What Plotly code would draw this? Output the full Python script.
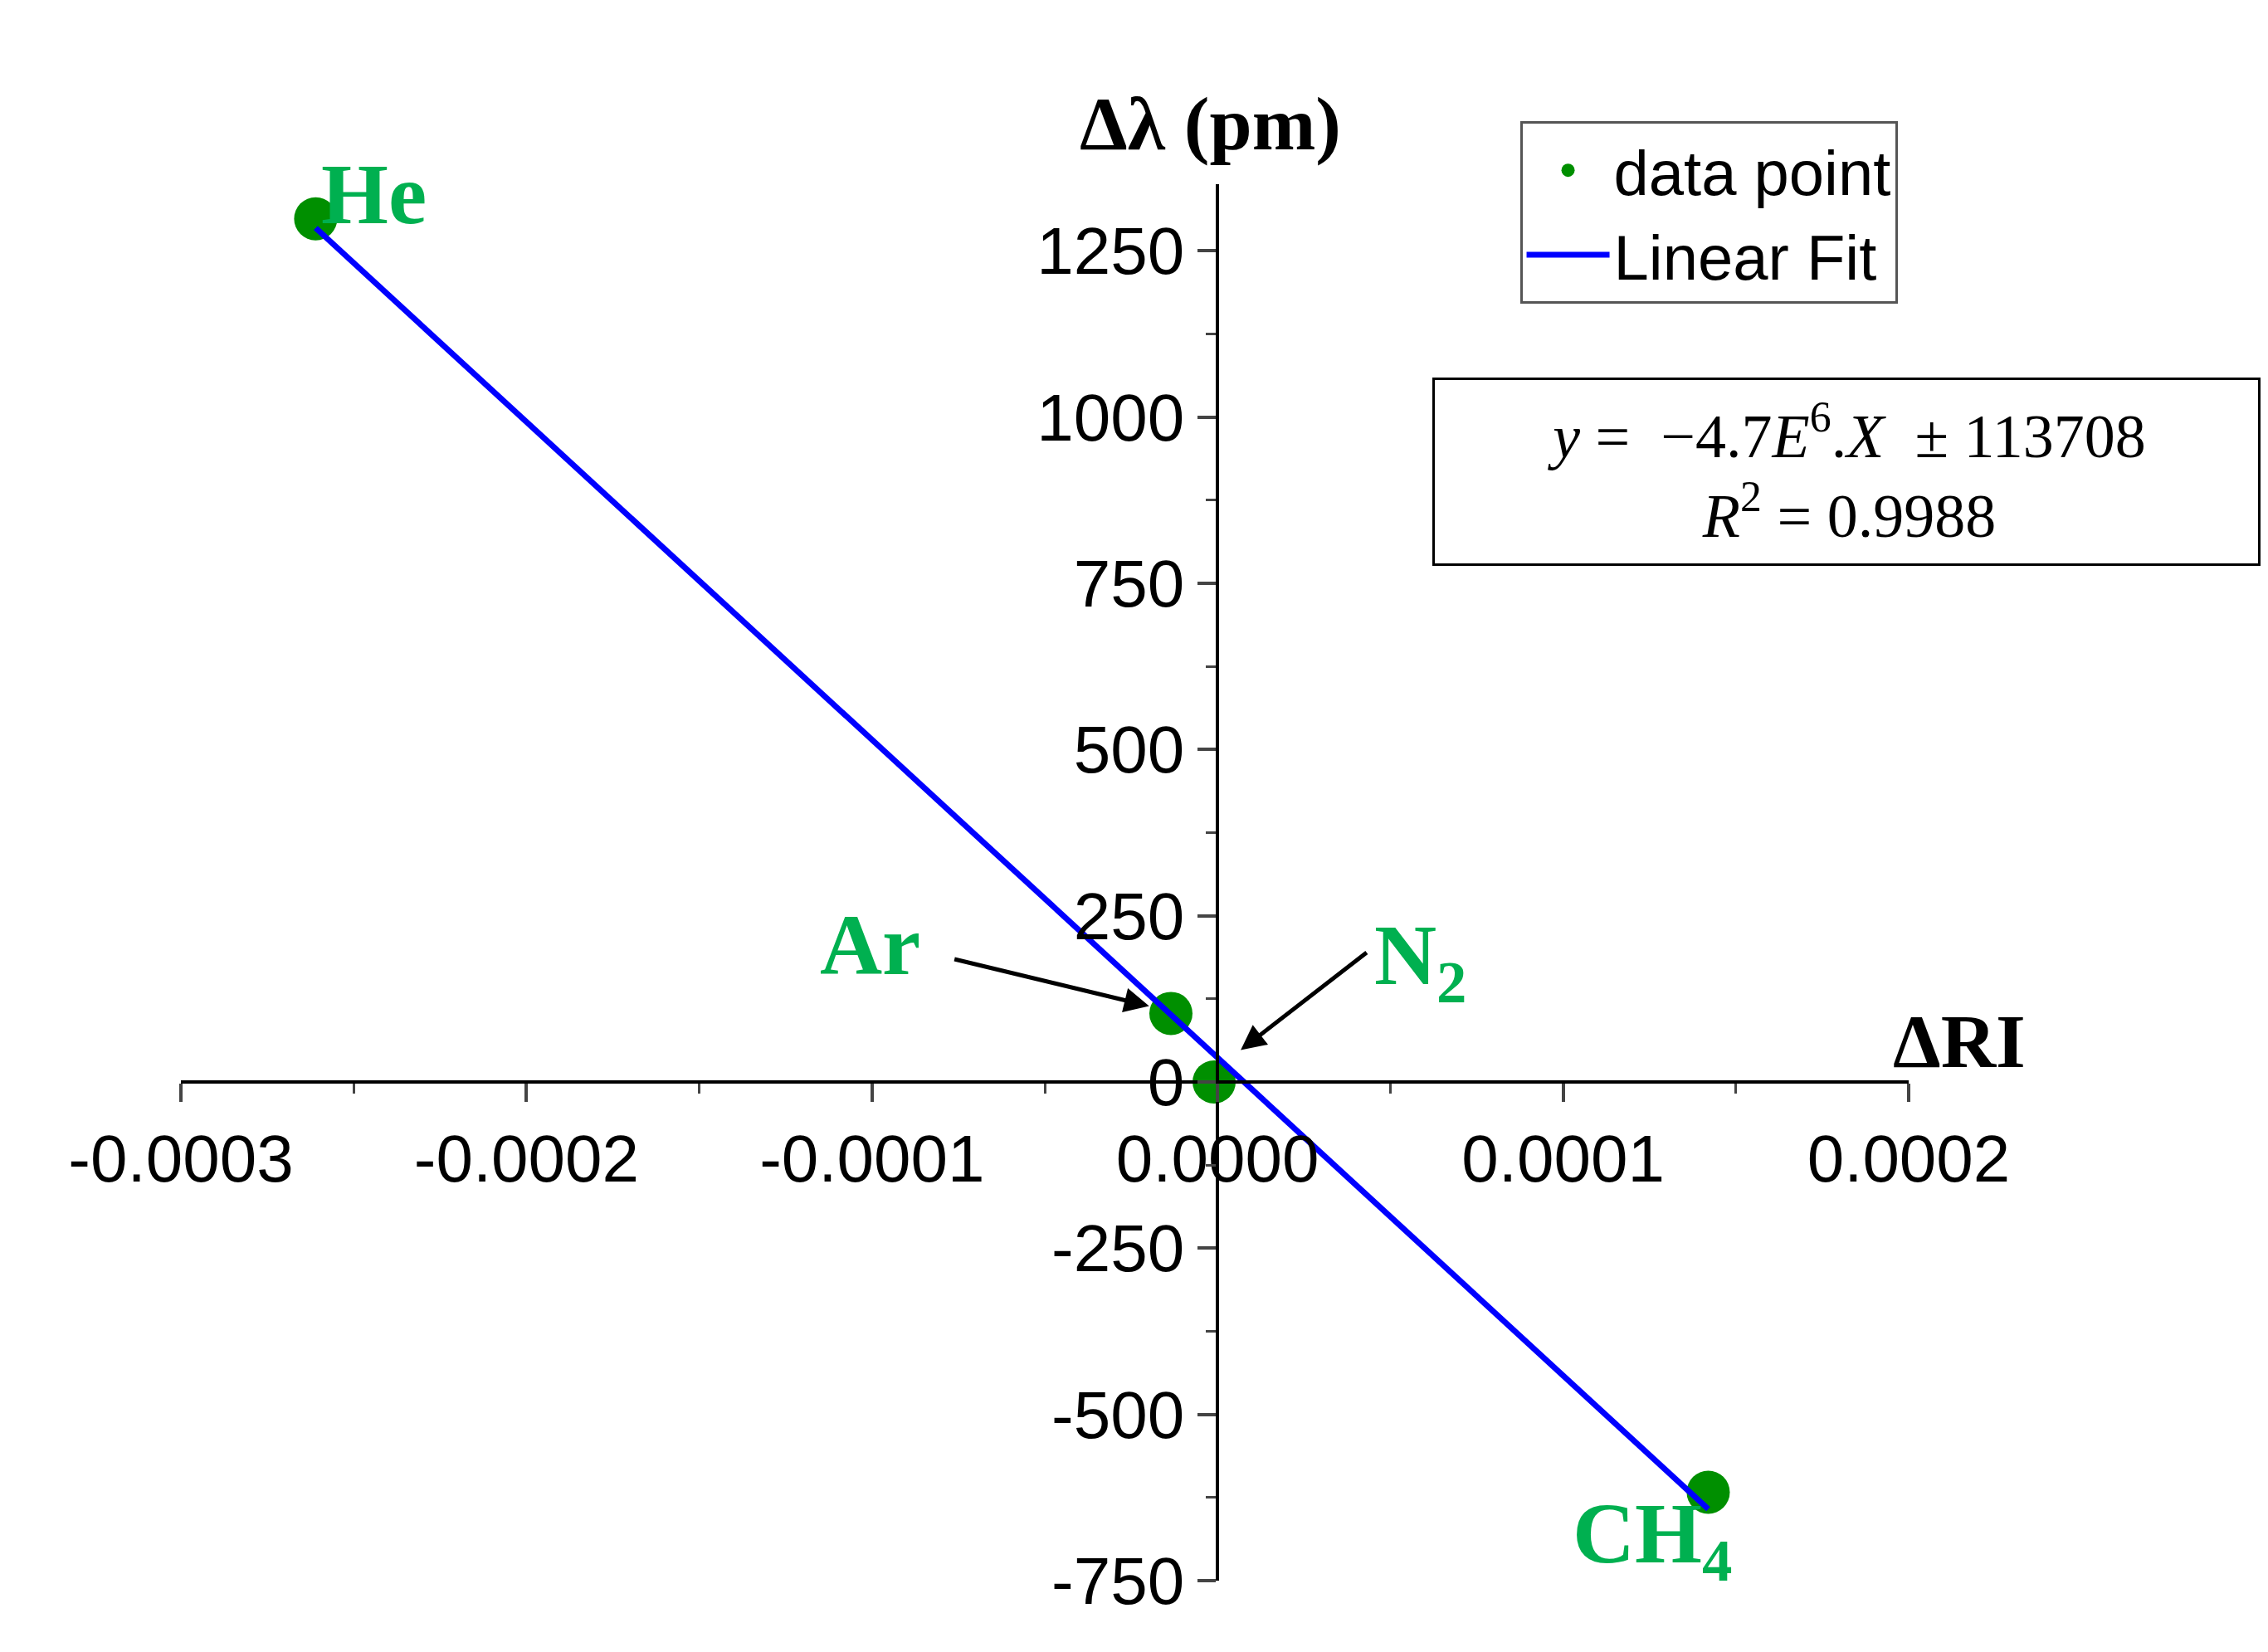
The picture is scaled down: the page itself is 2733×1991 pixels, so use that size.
import numpy as np
import plotly.graph_objects as go

gases = ["He", "Ar", "N2", "CH4"]
delta_ri = [-0.000261, -0.0000135, -0.000001, 0.000142]
delta_lambda = [1298, 103, 0, -617]
y_ticks = [-750, -500, -250, 0, 250, 500, 750, 1000, 1250]
x_ticks = [-0.0003, -0.0002, -0.0001, 0, 0.0001, 0.0002]
x_ticklabels = ["-0.0003", "-0.0002", "-0.0001", "0.0000", "0.0001", "0.0002"]

green = "#008f00"
label_green = "#00b050"
serif = "Liberation Serif"
sans = "Liberation Sans"

slope, intercept = np.polyfit(delta_ri, delta_lambda, 1)
fit_x = [min(delta_ri), max(delta_ri)]
fit_y = [slope * v + intercept for v in fit_x]

fig = go.Figure()
fig.add_trace(go.Scatter(x=delta_ri, y=delta_lambda, mode="markers", name="data point",
                         marker=dict(color=green, size=52), cliponaxis=False))
fig.add_trace(go.Scatter(x=fit_x, y=fit_y, mode="lines", name="Linear Fit",
                         line=dict(color="#0000ff", width=7), cliponaxis=False))

tickfont = dict(family=sans, size=80, color="black")
fig.update_layout(
    width=2733, height=1991, plot_bgcolor="white", paper_bgcolor="white",
    margin=dict(l=210, r=441, t=214, b=94),
    xaxis=dict(range=[-0.0003, 0.0002], tickvals=x_ticks, ticktext=x_ticklabels,
               anchor="free", position=750 / 2100, showline=True, linecolor="black", linewidth=4,
               ticks="outside", ticklen=22, tickwidth=4, showgrid=False, zeroline=False,
               tickfont=tickfont,
               minor=dict(ticks="outside", ticklen=12, tickwidth=3, dtick=0.00005)),
    yaxis=dict(range=[-750, 1350], tickvals=y_ticks, ticktext=[str(v) for v in y_ticks],
               anchor="free", position=0.6, showline=True, linecolor="black", linewidth=4,
               ticks="outside", ticklen=22, tickwidth=4, showgrid=False, zeroline=False,
               tickfont=tickfont,
               minor=dict(ticks="outside", ticklen=12, tickwidth=3, dtick=125)),
    legend=dict(x=0.775, y=1.045, xanchor="left", yanchor="top", bordercolor="#555",
                borderwidth=3, bgcolor="white", font=dict(family=sans, size=76, color="black"),
                itemwidth=100),
    showlegend=True,
)

def px_x(p):
    return (p - 210) / 2082

def px_y(p):
    return (1897 - p) / 1683

S = 1.752
ann = [
    (828, 50, "<b>Δλ (pm)</b>", serif, 92, "black"),
    (1390, 712, "<b>ΔRI</b>", serif, 92, "black"),
    (215, 95, "<b>He</b>", serif, 104, label_green),
    (1188, 1093, "<b>CH<sub>4</sub></b>", serif, 104, label_green),
]
for xp, yp, t, fam, sz, col in ann:
    fig.add_annotation(x=px_x(xp * S), y=px_y(yp * S), xref="paper", yref="paper",
                       text=t, showarrow=False, font=dict(family=fam, size=sz, color=col))

fig.add_annotation(x=-0.0001006, y=207, xref="x", yref="y", text="<b>Ar</b>", showarrow=False,
                   font=dict(family=serif, size=104, color=label_green))
fig.add_annotation(x=0.0000589, y=181, xref="x", yref="y", text="<b>N<sub>2</sub></b>",
                   showarrow=False, font=dict(family=serif, size=104, color=label_green))

fig.add_annotation(x=-0.0000198, y=114, ax=-0.0000765, ay=185, xref="x", yref="y",
                   axref="x", ayref="y", text="", showarrow=True, arrowhead=2,
                   arrowsize=1.2, arrowwidth=5, arrowcolor="black")
fig.add_annotation(x=0.0000067, y=48, ax=0.0000435, ay=196, xref="x", yref="y",
                   axref="x", ayref="y", text="", showarrow=True, arrowhead=2,
                   arrowsize=1.2, arrowwidth=5, arrowcolor="black")

fig.add_annotation(x=px_x(1550 * S), y=px_y(320 * S), xref="paper", yref="paper",
                   xanchor="right", yanchor="middle", showarrow=False,
                   text="<i>y</i> =  −4.7<i>E</i><sup>6</sup>.<i>X</i>  ± 113708<br><i>R</i><sup>2</sup> = 0.9988",
                   font=dict(family=serif, size=74, color="black"), bordercolor="black",
                   borderwidth=3, borderpad=16, bgcolor="white", width=960)

fig.write_html("out.html")
